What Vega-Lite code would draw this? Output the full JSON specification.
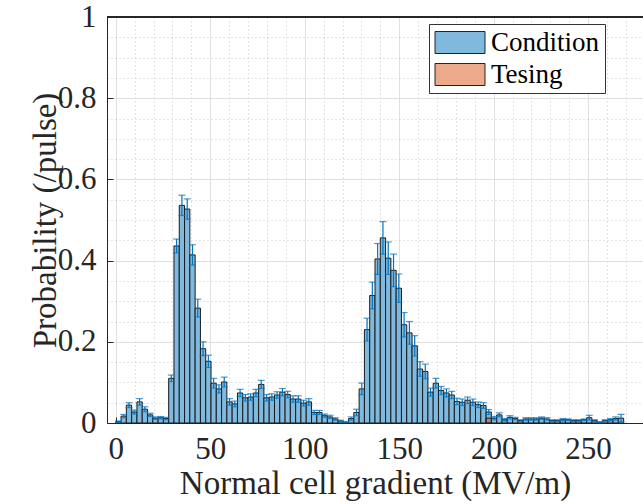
{
  "$schema": "https://vega.github.io/schema/vega-lite/v6.json",
  "width": 536,
  "height": 406,
  "autosize": {"type": "none"},
  "padding": {"left": 107, "top": 17, "right": 0, "bottom": 81},
  "background": "white",
  "config": {
    "view": {"stroke": null},
    "axis": {
      "labelFont": "Liberation Serif",
      "titleFont": "Liberation Serif",
      "labelColor": "#262626",
      "titleColor": "#262626",
      "titleFontWeight": "normal",
      "domainColor": "#262626",
      "tickColor": "#262626",
      "labelOverlap": false,
      "labelFlush": false
    }
  },
  "data": {
    "values": [
      {"g":"Condition","a":0,"b":2.8,"m":1.4,"p":0.003,"e":0.002},
      {"g":"Condition","a":2.8,"b":5.6,"m":4.2,"p":0.017,"e":0.004},
      {"g":"Condition","a":5.6,"b":8.4,"m":7,"p":0.044,"e":0.006},
      {"g":"Condition","a":8.4,"b":11.2,"m":9.8,"p":0.027,"e":0.005},
      {"g":"Condition","a":11.2,"b":14,"m":12.6,"p":0.052,"e":0.008},
      {"g":"Condition","a":14,"b":16.8,"m":15.4,"p":0.034,"e":0.006},
      {"g":"Condition","a":16.8,"b":19.6,"m":18.2,"p":0.02,"e":0.004},
      {"g":"Condition","a":19.6,"b":22.4,"m":21,"p":0.012,"e":0.003},
      {"g":"Condition","a":22.4,"b":25.2,"m":23.8,"p":0.013,"e":0.003},
      {"g":"Condition","a":25.2,"b":28,"m":26.6,"p":0.011,"e":0.003},
      {"g":"Condition","a":28,"b":30.8,"m":29.4,"p":0.11,"e":0.008},
      {"g":"Condition","a":30.8,"b":33.6,"m":32.2,"p":0.436,"e":0.017},
      {"g":"Condition","a":33.6,"b":36.4,"m":35,"p":0.536,"e":0.025},
      {"g":"Condition","a":36.4,"b":39.2,"m":37.8,"p":0.527,"e":0.025},
      {"g":"Condition","a":39.2,"b":42,"m":40.6,"p":0.414,"e":0.025},
      {"g":"Condition","a":42,"b":44.8,"m":43.4,"p":0.283,"e":0.022},
      {"g":"Condition","a":44.8,"b":47.6,"m":46.2,"p":0.183,"e":0.017},
      {"g":"Condition","a":47.6,"b":50.4,"m":49,"p":0.152,"e":0.015},
      {"g":"Condition","a":50.4,"b":53.2,"m":51.8,"p":0.098,"e":0.012},
      {"g":"Condition","a":53.2,"b":56,"m":54.6,"p":0.084,"e":0.01},
      {"g":"Condition","a":56,"b":58.8,"m":57.4,"p":0.101,"e":0.012},
      {"g":"Condition","a":58.8,"b":61.6,"m":60.2,"p":0.052,"e":0.008},
      {"g":"Condition","a":61.6,"b":64.4,"m":63,"p":0.047,"e":0.007},
      {"g":"Condition","a":64.4,"b":67.2,"m":65.8,"p":0.074,"e":0.009},
      {"g":"Condition","a":67.2,"b":70,"m":68.6,"p":0.062,"e":0.008},
      {"g":"Condition","a":70,"b":72.8,"m":71.4,"p":0.064,"e":0.008},
      {"g":"Condition","a":72.8,"b":75.6,"m":74.2,"p":0.074,"e":0.009},
      {"g":"Condition","a":75.6,"b":78.4,"m":77,"p":0.095,"e":0.01},
      {"g":"Condition","a":78.4,"b":81.2,"m":79.8,"p":0.062,"e":0.008},
      {"g":"Condition","a":81.2,"b":84,"m":82.6,"p":0.064,"e":0.008},
      {"g":"Condition","a":84,"b":86.8,"m":85.4,"p":0.069,"e":0.008},
      {"g":"Condition","a":86.8,"b":89.6,"m":88.2,"p":0.076,"e":0.009},
      {"g":"Condition","a":89.6,"b":92.4,"m":91,"p":0.07,"e":0.008},
      {"g":"Condition","a":92.4,"b":95.2,"m":93.8,"p":0.059,"e":0.008},
      {"g":"Condition","a":95.2,"b":98,"m":96.6,"p":0.059,"e":0.008},
      {"g":"Condition","a":98,"b":100.8,"m":99.4,"p":0.049,"e":0.007},
      {"g":"Condition","a":100.8,"b":103.6,"m":102.2,"p":0.052,"e":0.008},
      {"g":"Condition","a":103.6,"b":106.4,"m":105,"p":0.026,"e":0.005},
      {"g":"Condition","a":106.4,"b":109.2,"m":107.8,"p":0.026,"e":0.005},
      {"g":"Condition","a":109.2,"b":112,"m":110.6,"p":0.018,"e":0.004},
      {"g":"Condition","a":112,"b":114.8,"m":113.4,"p":0.015,"e":0.004},
      {"g":"Condition","a":114.8,"b":117.6,"m":116.2,"p":0.01,"e":0.003},
      {"g":"Condition","a":117.6,"b":120.4,"m":119,"p":0.005,"e":0.002},
      {"g":"Condition","a":120.4,"b":123.2,"m":121.8,"p":0.002,"e":0.001},
      {"g":"Condition","a":123.2,"b":126,"m":124.6,"p":0.011,"e":0.004},
      {"g":"Condition","a":126,"b":128.8,"m":127.4,"p":0.026,"e":0.008},
      {"g":"Condition","a":128.8,"b":131.6,"m":130.2,"p":0.084,"e":0.014},
      {"g":"Condition","a":131.6,"b":134.4,"m":133,"p":0.23,"e":0.028},
      {"g":"Condition","a":134.4,"b":137.2,"m":135.8,"p":0.314,"e":0.033},
      {"g":"Condition","a":137.2,"b":140,"m":138.6,"p":0.404,"e":0.038},
      {"g":"Condition","a":140,"b":142.8,"m":141.4,"p":0.456,"e":0.04},
      {"g":"Condition","a":142.8,"b":145.6,"m":144.2,"p":0.406,"e":0.04},
      {"g":"Condition","a":145.6,"b":148.4,"m":147,"p":0.376,"e":0.04},
      {"g":"Condition","a":148.4,"b":151.2,"m":149.8,"p":0.332,"e":0.035},
      {"g":"Condition","a":151.2,"b":154,"m":152.6,"p":0.242,"e":0.03},
      {"g":"Condition","a":154,"b":156.8,"m":155.4,"p":0.222,"e":0.028},
      {"g":"Condition","a":156.8,"b":159.6,"m":158.2,"p":0.19,"e":0.025},
      {"g":"Condition","a":159.6,"b":162.4,"m":161,"p":0.133,"e":0.018},
      {"g":"Condition","a":162.4,"b":165.2,"m":163.8,"p":0.127,"e":0.018},
      {"g":"Condition","a":165.2,"b":168,"m":166.6,"p":0.076,"e":0.01},
      {"g":"Condition","a":168,"b":170.8,"m":169.4,"p":0.098,"e":0.012},
      {"g":"Condition","a":170.8,"b":173.6,"m":172.2,"p":0.08,"e":0.01},
      {"g":"Condition","a":173.6,"b":176.4,"m":175,"p":0.074,"e":0.01},
      {"g":"Condition","a":176.4,"b":179.2,"m":177.8,"p":0.069,"e":0.009},
      {"g":"Condition","a":179.2,"b":182,"m":180.6,"p":0.053,"e":0.008},
      {"g":"Condition","a":182,"b":184.8,"m":183.4,"p":0.051,"e":0.008},
      {"g":"Condition","a":184.8,"b":187.6,"m":186.2,"p":0.056,"e":0.008},
      {"g":"Condition","a":187.6,"b":190.4,"m":189,"p":0.051,"e":0.008},
      {"g":"Condition","a":190.4,"b":193.2,"m":191.8,"p":0.045,"e":0.007},
      {"g":"Condition","a":193.2,"b":196,"m":194.6,"p":0.043,"e":0.007},
      {"g":"Condition","a":196,"b":198.8,"m":197.4,"p":0.027,"e":0.006},
      {"g":"Condition","a":198.8,"b":201.6,"m":200.2,"p":0.012,"e":0.004},
      {"g":"Condition","a":201.6,"b":204.4,"m":203,"p":0.02,"e":0.005},
      {"g":"Condition","a":204.4,"b":207.2,"m":205.8,"p":0.008,"e":0.003},
      {"g":"Condition","a":207.2,"b":210,"m":208.6,"p":0.014,"e":0.004},
      {"g":"Condition","a":210,"b":212.8,"m":211.4,"p":0.011,"e":0.003},
      {"g":"Condition","a":212.8,"b":215.6,"m":214.2,"p":0.006,"e":0.002},
      {"g":"Condition","a":215.6,"b":218.4,"m":217,"p":0.01,"e":0.003},
      {"g":"Condition","a":218.4,"b":221.2,"m":219.8,"p":0.01,"e":0.003},
      {"g":"Condition","a":221.2,"b":224,"m":222.6,"p":0.01,"e":0.003},
      {"g":"Condition","a":224,"b":226.8,"m":225.4,"p":0.012,"e":0.003},
      {"g":"Condition","a":226.8,"b":229.6,"m":228.2,"p":0.01,"e":0.003},
      {"g":"Condition","a":229.6,"b":232.4,"m":231,"p":0.006,"e":0.002},
      {"g":"Condition","a":232.4,"b":235.2,"m":233.8,"p":0.006,"e":0.002},
      {"g":"Condition","a":235.2,"b":238,"m":236.6,"p":0.008,"e":0.003},
      {"g":"Condition","a":238,"b":240.8,"m":239.4,"p":0.008,"e":0.002},
      {"g":"Condition","a":240.8,"b":243.6,"m":242.2,"p":0.006,"e":0.002},
      {"g":"Condition","a":243.6,"b":246.4,"m":245,"p":0.006,"e":0.002},
      {"g":"Condition","a":246.4,"b":249.2,"m":247.8,"p":0.008,"e":0.002},
      {"g":"Condition","a":249.2,"b":252,"m":250.6,"p":0.013,"e":0.006},
      {"g":"Condition","a":252,"b":254.8,"m":253.4,"p":0.006,"e":0.002},
      {"g":"Condition","a":254.8,"b":257.6,"m":256.2,"p":0.002,"e":0.001},
      {"g":"Condition","a":257.6,"b":260.4,"m":259,"p":0.006,"e":0.002},
      {"g":"Condition","a":260.4,"b":263.2,"m":261.8,"p":0.008,"e":0.003},
      {"g":"Condition","a":263.2,"b":266,"m":264.6,"p":0.011,"e":0.004},
      {"g":"Condition","a":266,"b":268.8,"m":267.4,"p":0.012,"e":0.009},
      {"g":"Tesing","a":196,"b":198.8,"m":197.4,"p":0.012,"e":0}
    ]
  },
  "resolve": {"axis": {"x": "independent", "y": "independent"}},
  "layer": [
    {
      "transform": [{"filter": "datum.g === 'Condition'"}],
      "mark": {"type": "point", "opacity": 0},
      "encoding": {
        "x": {
          "field": "a", "type": "quantitative",
          "scale": {"domain": [-2, 276.4], "nice": false, "zero": false},
          "axis": {
            "orient": "bottom",
            "values": [10,20,30,40,60,70,80,90,110,120,130,140,160,170,180,190,210,220,230,240,260,270],
            "labels": false, "ticks": false, "domain": false, "title": null,
            "grid": true, "gridColor": "#c8c8c8", "gridDash": [1, 3], "gridWidth": 1
          }
        },
        "y": {
          "field": "p", "type": "quantitative",
          "scale": {"domain": [0, 1], "nice": false},
          "axis": {
            "orient": "left",
            "values": [0.05,0.1,0.15,0.25,0.3,0.35,0.45,0.5,0.55,0.65,0.7,0.75,0.85,0.9,0.95],
            "labels": false, "ticks": false, "domain": false, "title": null,
            "grid": true, "gridColor": "#c8c8c8", "gridDash": [1, 3], "gridWidth": 1
          }
        }
      }
    },
    {
      "mark": {"type": "rule", "color": "#262626", "strokeWidth": 1},
      "encoding": {"y": {"datum": 1, "type": "quantitative", "axis": null}}
    },
    {
      "transform": [{"filter": "datum.g === 'Condition'"}],
      "mark": {"type": "bar", "stroke": "#1a1a1a", "strokeWidth": 1, "orient": "vertical"},
      "encoding": {
        "x": {
          "field": "a", "type": "quantitative",
          "title": "Normal cell gradient (MV/m)",
          "axis": {
            "orient": "bottom",
            "values": [0, 50, 100, 150, 200, 250],
            "labelOverlap": false,
            "grid": true,
            "gridColor": "#e0e0e0",
            "tickSize": -6,
            "labelFont": "Liberation Serif",
            "labelFontSize": 31,
            "labelPadding": 17,
            "titleFont": "Liberation Serif",
            "titleFontSize": 33,
            "titlePadding": 3
          }
        },
        "x2": {"field": "b"},
        "y": {
          "field": "p", "type": "quantitative",
          "title": "Probability (/pulse)",
          "axis": {
            "orient": "left",
            "values": [0, 0.2, 0.4, 0.6, 0.8, 1],
            "format": "~g",
            "labelOverlap": false,
            "grid": true,
            "gridColor": "#e0e0e0",
            "tickSize": -6,
            "labelFont": "Liberation Serif",
            "labelFontSize": 31,
            "labelPadding": 17,
            "titleFont": "Liberation Serif",
            "titleFontSize": 33,
            "titlePadding": -5
          }
        },
        "y2": {"datum": 0},
        "fill": {
          "field": "g", "type": "nominal",
          "scale": {"domain": ["Condition", "Tesing"], "range": ["#80B9DE", "#ECA98C"]},
          "legend": {
            "orient": "none",
            "legendX": 322,
            "legendY": 7,
            "title": null,
            "symbolType": "M-1,-0.88L3,-0.88L3,0.88L-1,0.88Z",
            "symbolSize": 625,
            "symbolStrokeColor": "#222222",
            "symbolStrokeWidth": 1,
            "symbolOpacity": 1,
            "labelFont": "Liberation Serif",
            "labelFontSize": 27,
            "labelColor": "#000000",
            "labelOffset": 30,
            "padding": 5,
            "rowPadding": 4,
            "fillColor": "white",
            "strokeColor": "#333333"
          }
        }
      }
    },
    {
      "transform": [{"filter": "datum.g === 'Tesing'"}],
      "mark": {"type": "bar", "fill": "#D95319", "fillOpacity": 0.5, "stroke": "#1a1a1a", "strokeWidth": 1, "orient": "vertical"},
      "encoding": {
        "x": {"field": "a", "type": "quantitative", "axis": null},
        "x2": {"field": "b"},
        "y": {"field": "p", "type": "quantitative", "axis": null},
        "y2": {"datum": 0}
      }
    },
    {
      "transform": [{"filter": "datum.g === 'Condition'"}],
      "mark": {"type": "errorbar", "color": "#0072BD", "thickness": 1.2, "ticks": {"size": 7, "color": "#0072BD"}},
      "encoding": {
        "x": {"field": "m", "type": "quantitative", "axis": null},
        "y": {"field": "p", "type": "quantitative", "axis": null},
        "yError": {"field": "e"}
      }
    }
  ]
}
